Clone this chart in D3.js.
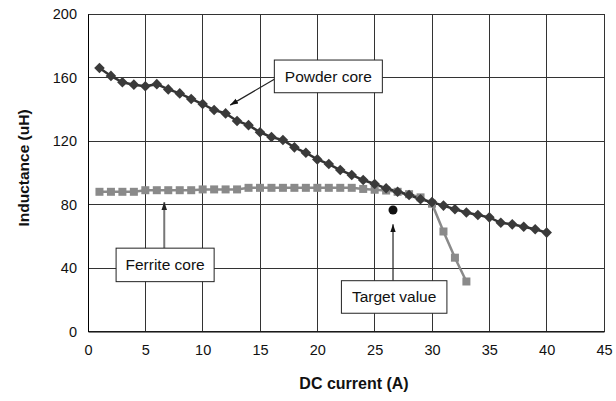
<!DOCTYPE html>
<html><head><meta charset="utf-8">
<script src="https://cdn.jsdelivr.net/npm/d3@7"></script>
<style>body{margin:0;background:#fff}svg{display:block;font-family:"Liberation Sans",Arial,sans-serif}</style>
</head><body><svg id="c" width="616" height="401"></svg>
<script>
const powderX = d3.range(1, 41);
const powderY = [166,161,157,155.5,154.5,155.8,152.5,150,146.5,143.3,139.5,137.4,132.6,130,125.5,122.5,120.6,116,112.6,108.4,105.5,101.7,98.6,95.4,92.9,90.2,88,86,83.3,81.5,79.3,77,75,73.4,71.9,68.5,67.5,66,64.4,62.3];
const ferriteX = d3.range(1, 34);
const ferriteY = [88,88,88,88,89,89,89,89,89,89.5,89.5,89.5,89.5,90.5,90.5,90.5,90.5,90.5,90.5,90.5,90.5,90.5,90.5,89.8,89.3,88.8,88,86.5,84.5,80.5,63,46.5,31.5];
const target = {x: 26.6, y: 76.5};
const xTicks = [0,5,10,15,20,25,30,35,40,45];
const yTicks = [0,40,80,120,160,200];
const labels = [
  {text:"Powder core", x:[16.25,25.67], y:[171,150.4], from:[16.25,158.9], to:[12.4,142.6], stroke:"#222"},
  {text:"Ferrite core", x:[2.45,11], y:[52.5,31.4], from:[6.65,52.5], to:[6.65,81.5], stroke:"#777"},
  {text:"Target value", x:[22.1,31.3], y:[32,11.5], from:[26.6,32], to:[26.6,67.5], stroke:"#222"}
];

const svg = d3.select("#c");
const x = d3.scaleLinear().domain([0,45]).range([88,604]);
const y = d3.scaleLinear().domain([0,200]).range([331.5,14]);

const defs = svg.append("defs");
["#111","#222"].forEach((c,i)=>{
  defs.append("marker").attr("id","ah"+i).attr("viewBox","0 0 10 10").attr("refX",10).attr("refY",5)
    .attr("markerWidth",8).attr("markerHeight",8).attr("markerUnits","userSpaceOnUse").attr("orient","auto")
    .append("path").attr("d","M0,1.5L10,5L0,8.5Z").attr("fill",c);
});

// grid
svg.append("g").selectAll("line").data(xTicks).join("line")
  .attr("x1",d=>x(d)).attr("x2",d=>x(d)).attr("y1",y(0)).attr("y2",y(200))
  .attr("stroke","#333").attr("stroke-width",1).attr("shape-rendering","crispEdges");
svg.append("g").selectAll("line").data(yTicks).join("line")
  .attr("x1",x(0)).attr("x2",x(45)).attr("y1",d=>y(d)).attr("y2",d=>y(d))
  .attr("stroke","#333").attr("stroke-width",1).attr("shape-rendering","crispEdges");

// axes
const xa = svg.append("g").attr("transform",`translate(0,${y(0)})`)
  .call(d3.axisBottom(x).tickValues(xTicks).tickSize(0).tickPadding(13));
xa.select(".domain").attr("stroke","#000");
xa.selectAll("text").attr("font-size",14.5).attr("fill","#111").attr("font-family","Liberation Sans, Arial, sans-serif");
const ya = svg.append("g").attr("transform",`translate(${x(0)},0)`)
  .call(d3.axisLeft(y).tickValues(yTicks).tickSize(0).tickPadding(11));
ya.select(".domain").attr("stroke","#000");
ya.selectAll("text").attr("font-size",14.5).attr("fill","#111").attr("font-family","Liberation Sans, Arial, sans-serif");

// titles
svg.append("text").attr("x",354).attr("y",389).attr("text-anchor","middle")
  .attr("font-size",16).attr("font-weight","bold").attr("fill","#111").text("DC current (A)");
svg.append("text").attr("transform","translate(29,168) rotate(-90)").attr("text-anchor","middle")
  .attr("font-size",15.5).attr("font-weight","bold").attr("fill","#111").text("Inductance (uH)");

// series
const powder = powderX.map((d,i)=>[d,powderY[i]]);
const ferrite = ferriteX.map((d,i)=>[d,ferriteY[i]]);
const line = d3.line().x(d=>x(d[0])).y(d=>y(d[1]));

svg.append("path").datum(ferrite).attr("d",line).attr("fill","none").attr("stroke","#8a8a8a").attr("stroke-width",2.5);
svg.append("path").datum(powder).attr("d",line).attr("fill","none").attr("stroke","#333").attr("stroke-width",2.5);

svg.append("g").selectAll("rect").data(ferrite).join("rect")
  .attr("x",d=>x(d[0])-4).attr("y",d=>y(d[1])-4).attr("width",8).attr("height",8).attr("fill","#8a8a8a");
svg.append("g").selectAll("path").data(powder).join("path")
  .attr("transform",d=>`translate(${x(d[0])},${y(d[1])})`)
  .attr("d","M0,-5.3L5.3,0L0,5.3L-5.3,0Z").attr("fill","#3a3a3a");

svg.append("circle").attr("cx",x(target.x)).attr("cy",y(target.y)).attr("r",4.5).attr("fill","#111");

// annotations
labels.forEach(l=>{
  const g = svg.append("g");
  const grey = l.stroke=="#777";
  g.append("line").attr("x1",x(l.from[0])).attr("y1",y(l.from[1])).attr("x2",x(l.to[0])).attr("y2",y(l.to[1]))
    .attr("stroke",l.stroke).attr("stroke-width",grey?2:1.2).attr("marker-end",`url(#ah${grey?1:0})`);
  g.append("rect").attr("x",x(l.x[0])).attr("y",y(l.y[0])).attr("width",x(l.x[1])-x(l.x[0])).attr("height",y(l.y[1])-y(l.y[0]))
    .attr("fill","#fff").attr("stroke","#222").attr("stroke-width",1);
  g.append("text").attr("x",(x(l.x[0])+x(l.x[1]))/2).attr("y",(y(l.y[0])+y(l.y[1]))/2+5.5)
    .attr("text-anchor","middle").attr("font-size",15.5).attr("fill","#111").text(l.text);
});
</script></body></html>
